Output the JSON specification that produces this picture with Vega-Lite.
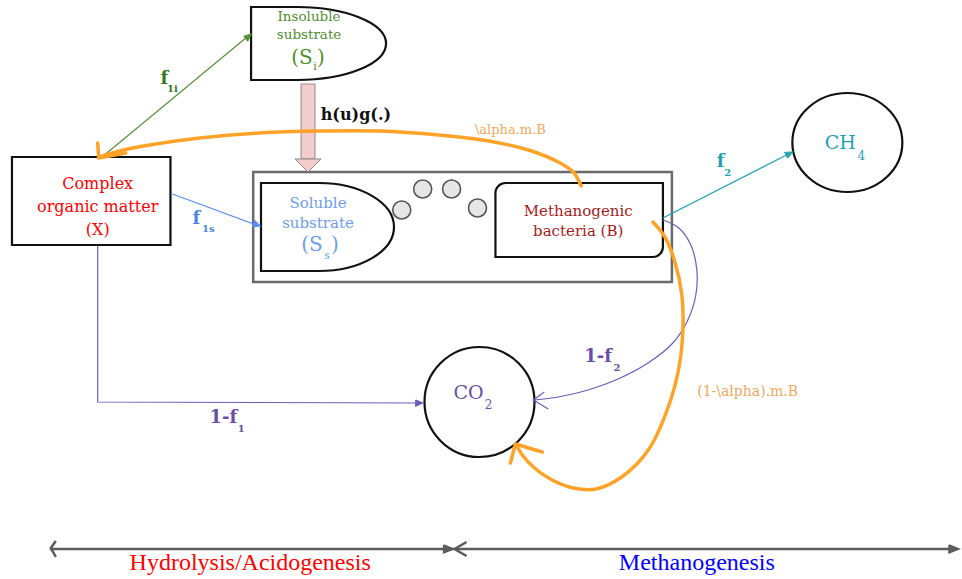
{
"$schema": "https://vega.github.io/schema/vega-lite/v6.json",
"width": 962, "height": 579,
"autosize": {"type": "fit", "contains": "padding"},
"padding": 0,
"background": "white",
"config": {"view": {"stroke": null}},
"datasets": {
"boxes": [
 {"id": "reactor", "x": 254, "x2": 674, "y": 172, "y2": 282},
 {"id": "X", "x": 12, "x2": 171, "y": 157, "y2": 245},
 {"id": "B", "x": 497, "x2": 665, "y": 183, "y2": 257},
 {"id": "shaft", "x": 302, "x2": 316, "y": 84, "y2": 159}
],
"anchors": [
 {"id": "Si", "x": 298, "y": 43.5},
 {"id": "Ss", "x": 320, "y": 227},
 {"id": "head", "x": 309, "y": 159},
 {"id": "CH4", "x": 850, "y": 142.5},
 {"id": "CO2", "x": 481, "y": 402}
],
"bubbles": [
 {"x": 424, "y": 189}, {"x": 453, "y": 189}, {"x": 403, "y": 210}, {"x": 479, "y": 208}
],
"paths": [
 {"g": "green", "p": "f1i", "i": 0, "x": 106, "y": 154},
 {"g": "green", "p": "f1i", "i": 1, "x": 249, "y": 36},
 {"g": "greenh", "p": "f1i_h", "i": 0, "x": 244.7, "y": 36.2},
 {"g": "greenh", "p": "f1i_h", "i": 1, "x": 252, "y": 34},
 {"g": "greenh", "p": "f1i_h", "i": 2, "x": 248.5, "y": 40.8},
 {"g": "greenh", "p": "f1i_h", "i": 3, "x": 244.7, "y": 36.2},
 {"g": "blue", "p": "f1s", "i": 0, "x": 173, "y": 194},
 {"g": "blue", "p": "f1s", "i": 1, "x": 257, "y": 225},
 {"g": "blueh", "p": "f1s_h", "i": 0, "x": 253.4, "y": 226.8},
 {"g": "blueh", "p": "f1s_h", "i": 1, "x": 261, "y": 226},
 {"g": "blueh", "p": "f1s_h", "i": 2, "x": 255.5, "y": 220.7},
 {"g": "blueh", "p": "f1s_h", "i": 3, "x": 253.4, "y": 226.8},
 {"g": "teal", "p": "f2", "i": 0, "x": 665, "y": 218},
 {"g": "teal", "p": "f2", "i": 1, "x": 791, "y": 154},
 {"g": "tealh", "p": "f2_h", "i": 0, "x": 790.2, "y": 157.9},
 {"g": "tealh", "p": "f2_h", "i": 1, "x": 795, "y": 152},
 {"g": "tealh", "p": "f2_h", "i": 2, "x": 787.4, "y": 152.5},
 {"g": "tealh", "p": "f2_h", "i": 3, "x": 790.2, "y": 157.9},
 {"g": "purple", "p": "c1", "i": 0, "x": 98, "y": 246},
 {"g": "purple", "p": "c1", "i": 1, "x": 98, "y": 402},
 {"g": "purple", "p": "c1", "i": 2, "x": 419, "y": 403},
 {"g": "purpleh", "p": "c1_h", "i": 0, "x": 417, "y": 400},
 {"g": "purpleh", "p": "c1_h", "i": 1, "x": 424, "y": 403},
 {"g": "purpleh", "p": "c1_h", "i": 2, "x": 417, "y": 406},
 {"g": "purpleh", "p": "c1_h", "i": 3, "x": 417, "y": 400},
 {"g": "purple", "p": "c2_h", "i": 0, "x": 546, "y": 392},
 {"g": "purple", "p": "c2_h", "i": 1, "x": 535, "y": 400},
 {"g": "purple", "p": "c2_h", "i": 2, "x": 550, "y": 409},
 {"g": "gray", "p": "axis", "i": 0, "x": 50, "y": 549},
 {"g": "gray", "p": "axis", "i": 1, "x": 957, "y": 549},
 {"g": "gray", "p": "lhook", "i": 0, "x": 56, "y": 541},
 {"g": "gray", "p": "lhook", "i": 1, "x": 51, "y": 548},
 {"g": "gray", "p": "lhook", "i": 2, "x": 56, "y": 557},
 {"g": "grayh", "p": "mhead", "i": 0, "x": 445, "y": 545},
 {"g": "grayh", "p": "mhead", "i": 1, "x": 455, "y": 549},
 {"g": "grayh", "p": "mhead", "i": 2, "x": 445, "y": 553},
 {"g": "grayh", "p": "mhead", "i": 3, "x": 445, "y": 545},
 {"g": "gray", "p": "mchev", "i": 0, "x": 468, "y": 542},
 {"g": "gray", "p": "mchev", "i": 1, "x": 456, "y": 549},
 {"g": "gray", "p": "mchev", "i": 2, "x": 468, "y": 556},
 {"g": "grayh", "p": "rhead", "i": 0, "x": 952, "y": 545},
 {"g": "grayh", "p": "rhead", "i": 1, "x": 962, "y": 549},
 {"g": "grayh", "p": "rhead", "i": 2, "x": 952, "y": 553},
 {"g": "grayh", "p": "rhead", "i": 3, "x": 952, "y": 545},
 {"g": "orangeh", "p": "al_h", "i": 0, "x": 98, "y": 143},
 {"g": "orangeh", "p": "al_h", "i": 1, "x": 99, "y": 158},
 {"g": "orangeh", "p": "al_h", "i": 2, "x": 126, "y": 153},
 {"g": "orangeh", "p": "al1_h", "i": 0, "x": 544, "y": 452},
 {"g": "orangeh", "p": "al1_h", "i": 1, "x": 517, "y": 444},
 {"g": "orangeh", "p": "al1_h", "i": 2, "x": 512, "y": 463}
],
"curves": [
 {"g": "purple", "p": "c2", "i": 0, "x": 665, "y": 220},
 {"g": "purple", "p": "c2", "i": 1, "x": 681, "y": 228},
 {"g": "purple", "p": "c2", "i": 2, "x": 693, "y": 245},
 {"g": "purple", "p": "c2", "i": 3, "x": 699, "y": 270},
 {"g": "purple", "p": "c2", "i": 4, "x": 698, "y": 295},
 {"g": "purple", "p": "c2", "i": 5, "x": 690, "y": 320},
 {"g": "purple", "p": "c2", "i": 6, "x": 675, "y": 343},
 {"g": "purple", "p": "c2", "i": 7, "x": 650, "y": 363},
 {"g": "purple", "p": "c2", "i": 8, "x": 620, "y": 379},
 {"g": "purple", "p": "c2", "i": 9, "x": 590, "y": 390},
 {"g": "purple", "p": "c2", "i": 10, "x": 560, "y": 397},
 {"g": "purple", "p": "c2", "i": 11, "x": 536, "y": 400},
 {"g": "orange", "p": "al", "i": 0, "x": 583, "y": 186},
 {"g": "orange", "p": "al", "i": 1, "x": 575, "y": 172},
 {"g": "orange", "p": "al", "i": 2, "x": 560, "y": 162},
 {"g": "orange", "p": "al", "i": 3, "x": 530, "y": 150},
 {"g": "orange", "p": "al", "i": 4, "x": 490, "y": 141},
 {"g": "orange", "p": "al", "i": 5, "x": 440, "y": 135},
 {"g": "orange", "p": "al", "i": 6, "x": 380, "y": 131},
 {"g": "orange", "p": "al", "i": 7, "x": 320, "y": 131},
 {"g": "orange", "p": "al", "i": 8, "x": 260, "y": 133},
 {"g": "orange", "p": "al", "i": 9, "x": 200, "y": 138},
 {"g": "orange", "p": "al", "i": 10, "x": 150, "y": 145},
 {"g": "orange", "p": "al", "i": 11, "x": 120, "y": 151},
 {"g": "orange", "p": "al", "i": 12, "x": 100, "y": 157},
 {"g": "orange", "p": "al1", "i": 0, "x": 655, "y": 222},
 {"g": "orange", "p": "al1", "i": 1, "x": 667, "y": 237},
 {"g": "orange", "p": "al1", "i": 2, "x": 677, "y": 262},
 {"g": "orange", "p": "al1", "i": 3, "x": 684, "y": 295},
 {"g": "orange", "p": "al1", "i": 4, "x": 685, "y": 330},
 {"g": "orange", "p": "al1", "i": 5, "x": 681, "y": 368},
 {"g": "orange", "p": "al1", "i": 6, "x": 670, "y": 408},
 {"g": "orange", "p": "al1", "i": 7, "x": 651, "y": 449},
 {"g": "orange", "p": "al1", "i": 8, "x": 625, "y": 476},
 {"g": "orange", "p": "al1", "i": 9, "x": 598, "y": 489},
 {"g": "orange", "p": "al1", "i": 10, "x": 575, "y": 488},
 {"g": "orange", "p": "al1", "i": 11, "x": 552, "y": 479},
 {"g": "orange", "p": "al1", "i": 12, "x": 535, "y": 467},
 {"g": "orange", "p": "al1", "i": 13, "x": 524, "y": 455},
 {"g": "orange", "p": "al1", "i": 14, "x": 518, "y": 445}
],
"labels": [
 {"t": "Complex", "x": 98, "y": 184, "node": "X", "kind": "x"},
 {"t": "organic matter", "x": 98, "y": 207, "node": "X", "kind": "x"},
 {"t": "(X)", "x": 98, "y": 230, "node": "X", "kind": "x"},
 {"t": "Insoluble", "x": 310, "y": 17, "node": "Si", "kind": "si"},
 {"t": "substrate", "x": 310, "y": 35, "node": "Si", "kind": "si"},
 {"t": "(S", "x": 303, "y": 58, "node": "Si", "kind": "sym"},
 {"t": ")", "x": 322, "y": 58, "node": "Si", "kind": "sym"},
 {"t": "i", "x": 316, "y": 67, "node": "Si", "kind": "sub"},
 {"t": "Soluble", "x": 319, "y": 203, "node": "Ss", "kind": "ss"},
 {"t": "substrate", "x": 319, "y": 223, "node": "Ss", "kind": "ss"},
 {"t": "(S", "x": 313, "y": 245, "node": "Ss", "kind": "sym"},
 {"t": ")", "x": 336, "y": 245, "node": "Ss", "kind": "sym"},
 {"t": "s", "x": 328, "y": 256, "node": "Ss", "kind": "sub"},
 {"t": "Methanogenic", "x": 580, "y": 211, "node": "B", "kind": "b"},
 {"t": "bacteria (B)", "x": 580, "y": 231, "node": "B", "kind": "b"},
 {"t": "CH", "x": 843, "y": 143, "node": "CH4", "kind": "gas"},
 {"t": "4", "x": 864, "y": 156, "node": "CH4", "kind": "gassub"},
 {"t": "CO", "x": 470, "y": 393, "node": "CO2", "kind": "gas"},
 {"t": "2", "x": 490, "y": 405, "node": "CO2", "kind": "gassub"},
 {"t": "f", "x": 165, "y": 79, "node": "f1i", "kind": "f"},
 {"t": "1i", "x": 173, "y": 89, "node": "f1i", "kind": "fsub"},
 {"t": "f", "x": 197, "y": 219, "node": "f1s", "kind": "f"},
 {"t": "1s", "x": 209, "y": 229, "node": "f1s", "kind": "fsub"},
 {"t": "f", "x": 723, "y": 162, "node": "f2", "kind": "f"},
 {"t": "2", "x": 730, "y": 173, "node": "f2", "kind": "fsub"},
 {"t": "1-f", "x": 224, "y": 418, "node": "f1c", "kind": "f"},
 {"t": "1", "x": 242, "y": 429, "node": "f1c", "kind": "fsub"},
 {"t": "1-f", "x": 600, "y": 357, "node": "f2c", "kind": "f"},
 {"t": "2", "x": 619, "y": 368, "node": "f2c", "kind": "fsub"},
 {"t": "h(u)g(.)", "x": 357, "y": 115, "node": "h", "kind": "h"},
 {"t": "\\alpha.m.B", "x": 512, "y": 130, "node": "al", "kind": "al"},
 {"t": "(1-\\alpha).m.B", "x": 750, "y": 392, "node": "al1", "kind": "al1"},
 {"t": "Hydrolysis/Acidogenesis", "x": 251, "y": 563, "node": "ph1", "kind": "ph"},
 {"t": "Methanogenesis", "x": 699, "y": 563, "node": "ph2", "kind": "ph"}
]
},
"encoding": {
 "x": {"field": "x", "type": "quantitative", "scale": {"domain": [0, 962], "nice": false, "zero": false}, "axis": null},
 "y": {"field": "y", "type": "quantitative", "scale": {"domain": [0, 579], "nice": false, "zero": false, "reverse": true}, "axis": null}
},
"layer": [
 {"data": {"name": "boxes"}, "transform": [{"filter": "datum.id === 'reactor'"}],
  "mark": {"type": "rect", "fill": "white", "stroke": "#6a6a6a", "strokeWidth": 2.5},
  "encoding": {"x2": {"field": "x2"}, "y2": {"field": "y2"}}},
 {"data": {"name": "boxes"}, "transform": [{"filter": "datum.id === 'X'"}],
  "mark": {"type": "rect", "fill": "white", "stroke": "#111", "strokeWidth": 2.2},
  "encoding": {"x2": {"field": "x2"}, "y2": {"field": "y2"}}},
 {"data": {"name": "boxes"}, "transform": [{"filter": "datum.id === 'B'"}],
  "mark": {"type": "rect", "fill": "white", "stroke": "#111", "strokeWidth": 2.2, "cornerRadiusTopLeft": 10, "cornerRadiusBottomRight": 10},
  "encoding": {"x2": {"field": "x2"}, "y2": {"field": "y2"}}},
 {"data": {"name": "boxes"}, "transform": [{"filter": "datum.id === 'shaft'"}],
  "mark": {"type": "rect", "fill": "#f4cccc", "stroke": "#8a8a8a", "strokeWidth": 1},
  "encoding": {"x2": {"field": "x2"}, "y2": {"field": "y2"}}},
 {"data": {"name": "anchors"}, "transform": [{"filter": "datum.id === 'head'"}],
  "mark": {"type": "point", "shape": "M -13 0 L 13 0 L 0 13 Z", "size": 4, "filled": true, "fill": "#f4cccc", "stroke": "#8a8a8a", "strokeWidth": 1, "opacity": 1}},
 {"data": {"name": "anchors"}, "transform": [{"filter": "datum.id === 'Si'"}],
  "mark": {"type": "point", "shape": "M 0 -36.5 L -46 -36.5 L -46 36.5 L 0 36.5 A 89 36.5 0 0 0 0 -36.5 Z", "size": 4, "filled": true, "fill": "white", "stroke": "#111", "strokeWidth": 2.2, "opacity": 1}},
 {"data": {"name": "anchors"}, "transform": [{"filter": "datum.id === 'Ss'"}],
  "mark": {"type": "point", "shape": "M 0 -44 L -58 -44 L -58 44 L 0 44 A 75 44 0 0 0 0 -44 Z", "size": 4, "filled": true, "fill": "white", "stroke": "#111", "strokeWidth": 2.2, "opacity": 1}},
 {"data": {"name": "anchors"}, "transform": [{"filter": "datum.id === 'CH4'"}],
  "mark": {"type": "point", "shape": "M -55 0 A 55 49.5 0 1 0 55 0 A 55 49.5 0 1 0 -55 0 Z", "size": 4, "filled": true, "fill": "white", "stroke": "#111", "strokeWidth": 2.2, "opacity": 1}},
 {"data": {"name": "anchors"}, "transform": [{"filter": "datum.id === 'CO2'"}],
  "mark": {"type": "point", "shape": "circle", "size": 12100, "filled": true, "fill": "white", "stroke": "#111", "strokeWidth": 2.2, "opacity": 1}},
 {"data": {"name": "bubbles"},
  "mark": {"type": "point", "shape": "circle", "size": 324, "filled": true, "fill": "#e6e6e6", "stroke": "#555", "strokeWidth": 1.6, "opacity": 1}},
 {"data": {"name": "paths"}, "transform": [{"filter": "datum.g === 'green'"}],
  "mark": {"type": "line", "stroke": "#5a8f3a", "strokeWidth": 1.2},
  "encoding": {"detail": {"field": "p"}, "order": {"field": "i"}}},
 {"data": {"name": "paths"}, "transform": [{"filter": "datum.g === 'greenh'"}],
  "mark": {"type": "line", "stroke": "#5a8f3a", "fill": "#5a8f3a", "strokeWidth": 1.2},
  "encoding": {"detail": {"field": "p"}, "order": {"field": "i"}}},
 {"data": {"name": "paths"}, "transform": [{"filter": "datum.g === 'blue'"}],
  "mark": {"type": "line", "stroke": "#5b8def", "strokeWidth": 1.2},
  "encoding": {"detail": {"field": "p"}, "order": {"field": "i"}}},
 {"data": {"name": "paths"}, "transform": [{"filter": "datum.g === 'blueh'"}],
  "mark": {"type": "line", "stroke": "#5b8def", "fill": "#5b8def", "strokeWidth": 1.2},
  "encoding": {"detail": {"field": "p"}, "order": {"field": "i"}}},
 {"data": {"name": "paths"}, "transform": [{"filter": "datum.g === 'teal'"}],
  "mark": {"type": "line", "stroke": "#26a3b5", "strokeWidth": 1.4},
  "encoding": {"detail": {"field": "p"}, "order": {"field": "i"}}},
 {"data": {"name": "paths"}, "transform": [{"filter": "datum.g === 'tealh'"}],
  "mark": {"type": "line", "stroke": "#26a3b5", "fill": "#26a3b5", "strokeWidth": 1.2},
  "encoding": {"detail": {"field": "p"}, "order": {"field": "i"}}},
 {"data": {"name": "paths"}, "transform": [{"filter": "datum.g === 'purple'"}],
  "mark": {"type": "line", "stroke": "#6e5bbd", "strokeWidth": 1.2},
  "encoding": {"detail": {"field": "p"}, "order": {"field": "i"}}},
 {"data": {"name": "paths"}, "transform": [{"filter": "datum.g === 'purpleh'"}],
  "mark": {"type": "line", "stroke": "#6e5bbd", "fill": "#6e5bbd", "strokeWidth": 1.2},
  "encoding": {"detail": {"field": "p"}, "order": {"field": "i"}}},
 {"data": {"name": "curves"}, "transform": [{"filter": "datum.g === 'purple'"}],
  "mark": {"type": "line", "stroke": "#6e5bbd", "strokeWidth": 1.2, "interpolate": "catmull-rom"},
  "encoding": {"detail": {"field": "p"}, "order": {"field": "i"}}},
 {"data": {"name": "paths"}, "transform": [{"filter": "datum.g === 'gray'"}],
  "mark": {"type": "line", "stroke": "#5c5c5c", "strokeWidth": 2.5},
  "encoding": {"detail": {"field": "p"}, "order": {"field": "i"}}},
 {"data": {"name": "paths"}, "transform": [{"filter": "datum.g === 'grayh'"}],
  "mark": {"type": "line", "stroke": "#5c5c5c", "fill": "#5c5c5c", "strokeWidth": 1.5},
  "encoding": {"detail": {"field": "p"}, "order": {"field": "i"}}},
 {"data": {"name": "curves"}, "transform": [{"filter": "datum.g === 'orange'"}],
  "mark": {"type": "line", "stroke": "#ffa328", "strokeWidth": 3.5, "interpolate": "catmull-rom", "strokeCap": "round"},
  "encoding": {"detail": {"field": "p"}, "order": {"field": "i"}}},
 {"data": {"name": "paths"}, "transform": [{"filter": "datum.g === 'orangeh'"}],
  "mark": {"type": "line", "stroke": "#ffa328", "strokeWidth": 3.5, "strokeCap": "round", "strokeJoin": "round"},
  "encoding": {"detail": {"field": "p"}, "order": {"field": "i"}}},
 {"data": {"name": "labels"}, "transform": [{"filter": "datum.kind === 'x'"}],
  "mark": {"type": "text", "font": "DejaVu Serif", "fontSize": 16, "baseline": "middle", "align": "center"},
  "encoding": {"text": {"field": "t"}, "color": {"field": "node", "type": "nominal", "legend": null, "scale": {"domain": ["X","Si","Ss","B","CH4","CO2","f1i","f1s","f2","f1c","f2c","h","al","al1","ph1","ph2"], "range": ["#ff0000","#4f8f2f","#6d9eeb","#a61c1c","#1fa0b4","#674ea7","#38761d","#4a86e8","#1fa0b4","#674ea7","#674ea7","#111111","#f0a860","#f0a860","#ff0000","#0000ff"]}}}},
 {"data": {"name": "labels"}, "transform": [{"filter": "datum.kind === 'si'"}],
  "mark": {"type": "text", "font": "DejaVu Serif", "fontSize": 13.5, "baseline": "middle", "align": "center"},
  "encoding": {"text": {"field": "t"}, "color": {"field": "node", "type": "nominal", "legend": null}}},
 {"data": {"name": "labels"}, "transform": [{"filter": "datum.kind === 'sym'"}],
  "mark": {"type": "text", "font": "DejaVu Serif", "fontSize": 20, "baseline": "middle", "align": "center"},
  "encoding": {"text": {"field": "t"}, "color": {"field": "node", "type": "nominal", "legend": null}}},
 {"data": {"name": "labels"}, "transform": [{"filter": "datum.kind === 'sub'"}],
  "mark": {"type": "text", "font": "DejaVu Serif", "fontSize": 11, "baseline": "middle", "align": "center"},
  "encoding": {"text": {"field": "t"}, "color": {"field": "node", "type": "nominal", "legend": null}}},
 {"data": {"name": "labels"}, "transform": [{"filter": "datum.kind === 'ss'"}],
  "mark": {"type": "text", "font": "DejaVu Serif", "fontSize": 15, "baseline": "middle", "align": "center"},
  "encoding": {"text": {"field": "t"}, "color": {"field": "node", "type": "nominal", "legend": null}}},
 {"data": {"name": "labels"}, "transform": [{"filter": "datum.kind === 'b'"}],
  "mark": {"type": "text", "font": "DejaVu Serif", "fontSize": 15, "baseline": "middle", "align": "center"},
  "encoding": {"text": {"field": "t"}, "color": {"field": "node", "type": "nominal", "legend": null}}},
 {"data": {"name": "labels"}, "transform": [{"filter": "datum.kind === 'al1'"}],
  "mark": {"type": "text", "font": "DejaVu Serif", "fontSize": 14, "baseline": "middle", "align": "center"},
  "encoding": {"text": {"field": "t"}, "color": {"field": "node", "type": "nominal", "legend": null}}},
 {"data": {"name": "labels"}, "transform": [{"filter": "datum.kind === 'gas'"}],
  "mark": {"type": "text", "font": "DejaVu Serif", "fontSize": 19, "baseline": "middle", "align": "center"},
  "encoding": {"text": {"field": "t"}, "color": {"field": "node", "type": "nominal", "legend": null}}},
 {"data": {"name": "labels"}, "transform": [{"filter": "datum.kind === 'gassub'"}],
  "mark": {"type": "text", "font": "DejaVu Serif", "fontSize": 12, "baseline": "middle", "align": "center"},
  "encoding": {"text": {"field": "t"}, "color": {"field": "node", "type": "nominal", "legend": null}}},
 {"data": {"name": "labels"}, "transform": [{"filter": "datum.kind === 'f'"}],
  "mark": {"type": "text", "font": "DejaVu Serif", "fontSize": 18, "fontWeight": "bold", "baseline": "middle", "align": "center"},
  "encoding": {"text": {"field": "t"}, "color": {"field": "node", "type": "nominal", "legend": null}}},
 {"data": {"name": "labels"}, "transform": [{"filter": "datum.kind === 'fsub'"}],
  "mark": {"type": "text", "font": "DejaVu Serif", "fontSize": 10, "fontWeight": "bold", "baseline": "middle", "align": "center"},
  "encoding": {"text": {"field": "t"}, "color": {"field": "node", "type": "nominal", "legend": null}}},
 {"data": {"name": "labels"}, "transform": [{"filter": "datum.kind === 'h'"}],
  "mark": {"type": "text", "font": "DejaVu Serif", "fontSize": 16, "fontWeight": "bold", "baseline": "middle", "align": "center"},
  "encoding": {"text": {"field": "t"}, "color": {"field": "node", "type": "nominal", "legend": null}}},
 {"data": {"name": "labels"}, "transform": [{"filter": "datum.kind === 'al'"}],
  "mark": {"type": "text", "font": "DejaVu Serif", "fontSize": 13, "baseline": "middle", "align": "center"},
  "encoding": {"text": {"field": "t"}, "color": {"field": "node", "type": "nominal", "legend": null}}},
 {"data": {"name": "labels"}, "transform": [{"filter": "datum.kind === 'ph'"}],
  "mark": {"type": "text", "font": "Liberation Serif", "fontSize": 24, "baseline": "middle", "align": "center"},
  "encoding": {"text": {"field": "t"}, "color": {"field": "node", "type": "nominal", "legend": null}}}
]
}
